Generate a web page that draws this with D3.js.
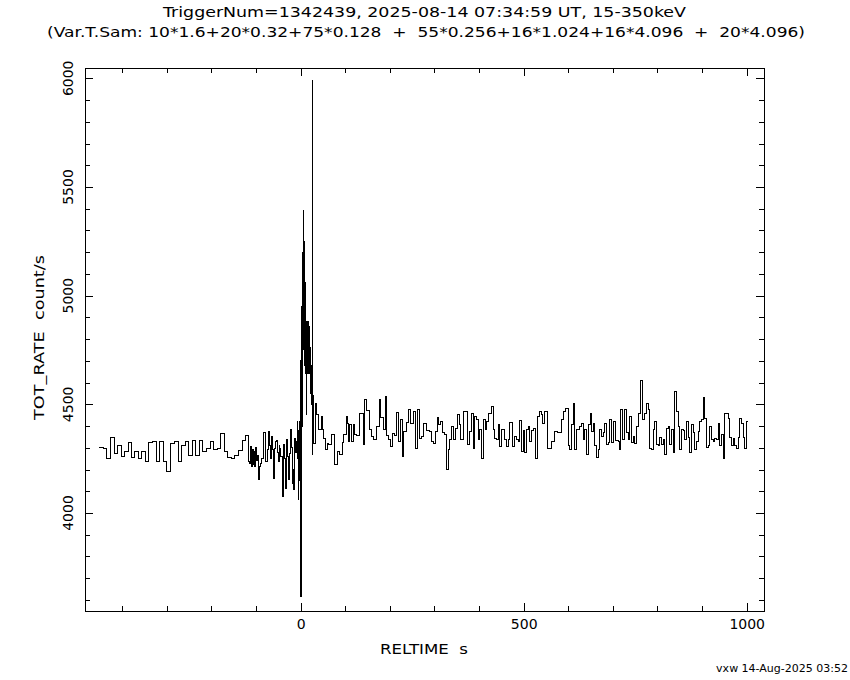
<!DOCTYPE html>
<html>
<head>
<meta charset="utf-8">
<script src="https://cdn.jsdelivr.net/npm/d3@7"></script>
<style>
  html, body { margin: 0; padding: 0; background: #fff; }
  svg { display: block; }
  text { font-family: "DejaVu Sans", sans-serif; fill: #000; }
</style>
</head>
<body>
<svg id="chart" width="850" height="680"></svg>
<script>
// ---------------- DATA ----------------
const titleLine1 = "TriggerNum=1342439, 2025-08-14 07:34:59 UT, 15-350keV";
const titleLine2 = "(Var.T.Sam: 10*1.6+20*0.32+75*0.128  +  55*0.256+16*1.024+16*4.096  +  20*4.096)";
const xLabel = "RELTIME  s";
const yLabel = "TOT_RATE  count/s";
const footer = "vxw 14-Aug-2025 03:52";

const xMajorTicks = [0, 500, 1000];
const xMinorTicks = [-400, -300, -200, -100, 100, 200, 300, 400, 600, 700, 800, 900];
const yMajorTicks = [4000, 4500, 5000, 5500, 6000];
const yMinorTicks = [3600, 3700, 3800, 3900, 4100, 4200, 4300, 4400, 4600, 4700, 4800, 4900,
                     5100, 5200, 5300, 5400, 5600, 5700, 5800, 5900];

// [bin start time (s), rate (count/s)]
const preTrigger = [
  [-452.2,4302],[-442.5,4299],[-435.8,4252],[-426.8,4348],[-417.9,4275],[-411.1,4312],
  [-402.2,4261],[-395.4,4285],[-386.5,4325],[-379.8,4256],[-372.3,4285],[-364.1,4252],
  [-355.9,4284],[-346.9,4235],[-340.2,4324],[-331.2,4328],[-323.7,4239],[-315.5,4331],
  [-307.3,4239],[-299.8,4193],[-292.4,4318],[-283.4,4331],[-274.4,4239],[-267.7,4312],
  [-258.7,4331],[-252.0,4266],[-243.0,4335],[-236.3,4266],[-227.4,4335],[-219.9,4285],
  [-211.7,4295],[-202.7,4330],[-196.0,4292],[-187.0,4296],[-180.3,4368],[-171.3,4281],
  [-164.6,4256],[-155.7,4250],[-147.4,4266],[-139.2,4289],[-131.0,4335],[-123.5,4358]
];
const preBurst = [
  [-116.1,4239],[-113.7,4229],[-111.5,4305],[-110.2,4212],[-108.5,4290],[-106.9,4225],
  [-105.3,4282],[-103.5,4215],[-101.2,4300],[-99.5,4240],[-97.0,4265],[-95.5,4220],
  [-93.5,4155],[-91.5,4215],[-89.8,4230],[-87.5,4252],[-83.8,4275],[-82.3,4370],
  [-80.0,4300],[-77.8,4236],[-75.0,4290],[-72.6,4374],[-70.0,4310],[-67.4,4252],
  [-65.1,4351],[-63.0,4290],[-61.4,4160],[-59.5,4250],[-57.7,4298],[-55.5,4330],
  [-53.9,4333],[-52.0,4280],[-50.2,4236],[-48.0,4310],[-46.5,4298],[-44.5,4260],
  [-40.5,4075],[-39.0,4200],[-37.5,4313],[-35.5,4250],[-33.8,4114],[-32.5,4200],
  [-31.5,4336],[-29.5,4260],[-27.8,4152],[-26.0,4230],[-24.1,4275],[-21.8,4382],
  [-20.0,4300],[-18.1,4137],[-16.5,4200],[-15.1,4106],[-12.9,4344],[-11.0,4280],
  [-9.0,4330],[-7.6,4420],[-6.5,4250],[-5.4,4060],[-4.0,4380],[-3.0,4150]
];
const burst = [
  [-1.6,4420],[-1.2,3760],[-0.8,4500],[-0.4,3680],[0.0,4700],[0.4,3614],[0.8,4950],
  [1.2,4100],[1.6,4850],[2.0,4300],[2.4,4950],[2.8,4400],[3.2,5085],[3.6,4560],
  [4.0,5000],[4.4,4700],[4.8,5200],[5.2,4750],[5.6,5391],[6.0,4800],[6.4,5300],
  [6.8,4900],[7.2,5250],[7.6,4750],[8.0,5070],[8.4,4680],[8.8,5030],[9.2,4700],
  [9.6,5060],[10.0,4660],[10.4,5000],[10.8,4650],[11.2,4950],[11.6,4640],[12.0,4880],
  [12.4,4660],[12.8,4870],[13.2,4455],[13.6,4850],[14.0,4650],[14.4,4860],[14.8,4660],
  [15.2,4820],[15.6,4640],[16.0,4880],[16.4,4680],[16.8,4840],[17.2,4640],[17.6,4800],
  [18.0,4650],[18.4,4860],[18.8,4660],[19.2,4780],[19.6,4640],[20.0,4820],[20.4,4650],
  [20.8,4760],[21.2,4600],[21.6,4720],[22.0,4560],[22.4,4700],[22.8,4550],[23.2,4680],
  [23.6,4545],[24.0,4640],[24.4,4500],[24.8,4600],[25.2,4520],[25.6,5990],[26.0,4545],
  [26.4,4269],[26.8,4545],[27.2,4460],[27.6,4540],[28.0,4450],[28.4,4520],[28.8,4430],
  [29.2,4500]
];
const postBurst = [
  [29.7,4320],[32.1,4505],[35.8,4451],[41.0,4385],[47.0,4443],[49.2,4385],[52.2,4344],
  [56.7,4293],[59.7,4318],[63.4,4313],[69.4,4359],[74.7,4224],[82.1,4282],[88.1,4267],
  [93.3,4324],[97.1,4362],[101.6,4443],[104.5,4413],[108.3,4328],[110.5,4405],[115.0,4328],
  [118.0,4405],[121.7,4359],[125.5,4356],[131.4,4459],[140.4,4313],[142.6,4520],[147.9,4471],
  [153.8,4382],[158.3,4351],[162.8,4339],[170.3,4400],[176.3,4520],[178.5,4439],[185.2,4382],
  [191.2,4535],[193.4,4356],[197.9,4336],[201.7,4308],[205.4,4367],[209.9,4356],[215.1,4463],
  [220.3,4328],[224.1,4431],[228.5,4262],[230.0,4374],[237.5,4417],[241.2,4474],[247.2,4410],
  [252.5,4466],[257.7,4298],[261.4,4474],[267.4,4344],[271.1,4354],[274.9,4410],[282.3,4379],
  [288.3,4374],[293.5,4328],[298.8,4321],[303.2,4374],[306.2,4440],[310.0,4405],[314.5,4420],
  [318.2,4370],[323.4,4362],[327.2,4201],[330.9,4293],[334.6,4336],[338.4,4400],[343.6,4336],
  [348.1,4390],[351.8,4451],[355.5,4405],[359.3,4336],[364.5,4469],[373.5,4313],[378.0,4374],
  [382.4,4456],[386.9,4298],[390.6,4443],[394.4,4428],[398.1,4336],[401.9,4382],[405.6,4252],
  [409.3,4428],[413.8,4382],[416.8,4420],[420.5,4459],[428.0,4492],[431.7,4382],[435.5,4344],
  [439.2,4336],[443.0,4405],[446.7,4308],[450.4,4382],[457.9,4336],[461.6,4308],[465.3,4336],
  [469.1,4416],[475.1,4308],[480.3,4351],[484.0,4336],[487.8,4328],[491.5,4425],[495.2,4282],
  [499.0,4379],[502.7,4278],[506.4,4382],[510.2,4397],[513.9,4328],[518.4,4379],[522.9,4390],
  [526.6,4252],[530.3,4443],[534.8,4466],[540.2,4451],[542.5,4410],[547.7,4466],[552.9,4298],
  [562.6,4328],[570.1,4374],[575.3,4370],[585.1,4428],[590.3,4466],[594.8,4482],[600.0,4309],
  [602.2,4290],[607.5,4405],[611.2,4502],[614.9,4290],[618.7,4385],[624.6,4400],[629.9,4413],
  [635.1,4336],[637.3,4382],[641.1,4270],[646.3,4405],[650.0,4459],[652.3,4374],[656.0,4410],
  [659.8,4309],[663.5,4256],[667.2,4293],[671.0,4382],[674.7,4351],[678.4,4370],[682.2,4410],
  [685.9,4313],[689.6,4324],[693.4,4431],[697.1,4324],[700.8,4420],[706.8,4333],[712.0,4328],
  [714.3,4293],[718.0,4477],[721.8,4336],[727.0,4474],[730.7,4370],[734.5,4339],[738.2,4443],
  [741.9,4324],[745.7,4354],[749.4,4321],[753.1,4397],[756.9,4459],[762.1,4609],[766.6,4428],
  [771.8,4459],[775.5,4502],[779.3,4474],[783.0,4298],[786.7,4290],[790.5,4382],[794.2,4420],
  [797.9,4313],[801.7,4309],[805.4,4348],[809.2,4313],[812.9,4336],[816.6,4270],[820.4,4390],
  [824.1,4400],[827.8,4313],[831.6,4385],[835.3,4278],[839.0,4558],[842.8,4466],[846.5,4400],
  [850.2,4290],[854.0,4382],[857.7,4379],[861.4,4336],[865.2,4420],[868.9,4348],[872.7,4278],
  [876.4,4405],[880.1,4370],[883.9,4290],[887.6,4328],[891.3,4374],[895.1,4420],[898.8,4428],
  [902.5,4532],[906.3,4436],[910.0,4302],[913.7,4309],[917.5,4400],[921.2,4339],[924.9,4328],
  [928.7,4344],[932.4,4339],[936.2,4410],[939.9,4309],[943.6,4359],[947.4,4252],[951.1,4459],
  [954.8,4456],[958.6,4436],[962.3,4348],[966.0,4309],[969.8,4344],[973.5,4309],[977.3,4298],
  [981.0,4348],[984.7,4436],[988.5,4410],[992.2,4348],[995.9,4298],[999.7,4420]
];
const lastBinEnd = 1003.4;

// ---------------- DRAW ----------------
const svg = d3.select("#chart");
const L = 85, R = 764, T = 68, B = 611;

const x = d3.scaleLinear().domain([-483.6, 1038.8]).range([L, R]);
const y = d3.scaleLinear().domain([3549.1, 6047.4]).range([B, T]);

const bins = preTrigger.concat(preBurst, burst, postBurst);
const pts = bins.concat([[lastBinEnd, bins[bins.length - 1][1]]]);

const line = d3.line()
  .x(d => x(d[0]))
  .y(d => y(d[1]))
  .curve(d3.curveStepAfter);

svg.append("path")
  .datum(pts)
  .attr("d", line)
  .attr("fill", "none")
  .attr("stroke", "#000")
  .attr("stroke-width", 1)
  .attr("shape-rendering", "crispEdges");

// frame
svg.append("rect")
  .attr("x", L).attr("y", T).attr("width", R - L).attr("height", B - T)
  .attr("fill", "none").attr("stroke", "#000").attr("stroke-width", 1)
  .attr("shape-rendering", "crispEdges");

function styleAxis(g) {
  g.select(".domain").remove();
  g.selectAll("line").attr("stroke", "#000").attr("shape-rendering", "crispEdges");
  g.selectAll("text").remove();
}

// bottom axis (labels)
const gb = svg.append("g").attr("transform", `translate(0,${B})`)
  .call(d3.axisBottom(x).tickValues(xMajorTicks).tickSize(-8).tickSizeOuter(0).tickPadding(8)
    .tickFormat(d3.format("d")));
gb.select(".domain").remove();
gb.selectAll("line").attr("stroke", "#000").attr("shape-rendering", "crispEdges");
gb.selectAll("text").attr("font-size", 14).attr("font-family", "DejaVu Sans").attr("fill", "#000");

svg.append("g").attr("transform", `translate(0,${B})`)
  .call(d3.axisBottom(x).tickValues(xMinorTicks).tickSize(-5).tickSizeOuter(0)).call(styleAxis);
svg.append("g").attr("transform", `translate(0,${T})`)
  .call(d3.axisTop(x).tickValues(xMajorTicks).tickSize(-8).tickSizeOuter(0)).call(styleAxis);
svg.append("g").attr("transform", `translate(0,${T})`)
  .call(d3.axisTop(x).tickValues(xMinorTicks).tickSize(-5).tickSizeOuter(0)).call(styleAxis);

svg.append("g").attr("transform", `translate(${L},0)`)
  .call(d3.axisLeft(y).tickValues(yMajorTicks).tickSize(-8).tickSizeOuter(0)).call(styleAxis);
svg.append("g").attr("transform", `translate(${L},0)`)
  .call(d3.axisLeft(y).tickValues(yMinorTicks).tickSize(-5).tickSizeOuter(0)).call(styleAxis);
svg.append("g").attr("transform", `translate(${R},0)`)
  .call(d3.axisRight(y).tickValues(yMajorTicks).tickSize(-8).tickSizeOuter(0)).call(styleAxis);
svg.append("g").attr("transform", `translate(${R},0)`)
  .call(d3.axisRight(y).tickValues(yMinorTicks).tickSize(-5).tickSizeOuter(0)).call(styleAxis);

// y tick labels, rotated
svg.append("g").selectAll("text").data(yMajorTicks).join("text")
  .attr("transform", d => `translate(68,${y(d)}) rotate(-90)`)
  .attr("text-anchor", "middle")
  .attr("dominant-baseline", "central")
  .attr("font-size", 14)
  .text(d => d);

// titles
svg.append("text").attr("x", 424.5).attr("y", 17).attr("text-anchor", "middle")
  .attr("font-size", 14).attr("textLength", 523).attr("lengthAdjust", "spacingAndGlyphs")
  .text(titleLine1);
svg.append("text").attr("x", 426).attr("y", 37).attr("text-anchor", "middle")
  .style("white-space", "pre")
  .attr("font-size", 14).attr("textLength", 758).attr("lengthAdjust", "spacingAndGlyphs")
  .text(titleLine2);

// axis labels
svg.append("text").attr("x", 424).attr("y", 654).attr("text-anchor", "middle")
  .style("white-space", "pre").attr("font-size", 14)
  .attr("textLength", 88).attr("lengthAdjust", "spacingAndGlyphs").text(xLabel);
svg.append("text").attr("transform", "translate(44,337.5) rotate(-90)").attr("text-anchor", "middle")
  .style("white-space", "pre").attr("font-size", 14)
  .attr("textLength", 165).attr("lengthAdjust", "spacingAndGlyphs").text(yLabel);

// footer
svg.append("text").attr("x", 848).attr("y", 672).attr("text-anchor", "end")
  .attr("font-size", 11).text(footer);
</script>
</body>
</html>
